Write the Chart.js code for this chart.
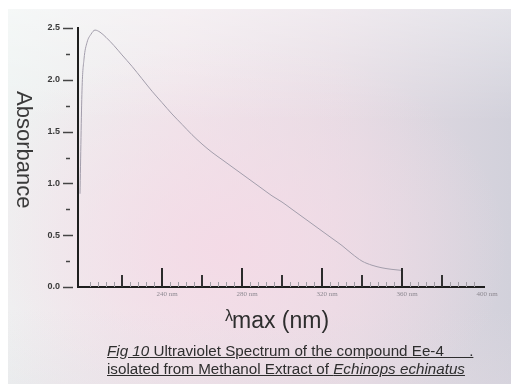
<!DOCTYPE html>
<html>
<head>
<meta charset="utf-8">
<script src="https://cdn.jsdelivr.net/npm/chart.js@4"></script>
<style>
  html, body { margin: 0; padding: 0; background: #ffffff; }
  #wrap { position: relative; width: 511px; height: 387px; overflow: hidden; background: #fff; }
  #photo { position: absolute; left: 8px; top: 9px; width: 503px; height: 375px;
    background:
      radial-gradient(ellipse 280px 210px at 220px 240px, rgba(244,218,230,0.95), rgba(244,218,230,0) 100%),
      linear-gradient(90deg, #eef3f2 0%, #efe6eb 35%, #e6dce4 65%, #d2d1db 100%);
  }
  #photo::after { content: ""; position: absolute; inset: 0;
    background: linear-gradient(180deg, rgba(255,255,255,0.4) 0%, rgba(255,255,255,0) 30%, rgba(255,255,255,0) 80%, rgba(225,218,226,0.3) 100%); }
  canvas { position: absolute; left: 0; top: 0; }
  .txt { position: absolute; font-family: "Liberation Sans", Arial, sans-serif; color: #333; white-space: nowrap; }
  #ylab { left: 11px; top: 91px; writing-mode: vertical-rl; font-size: 22px; color: #3a3a3a; }
  #xlab { left: 225px; top: 307px; font-size: 23px; color: #2e2e2e; }
  #xlab .lam { position: relative; top: -7px; font-size: 16px; margin-right: -1px; }
  #cap { left: 107px; top: 342px; font-size: 15.2px; line-height: 18px; color: #2e2e2e; }
  #cap div { text-decoration: underline; }
</style>
</head>
<body>
<div id="wrap">
  <div id="photo"></div>
  <canvas id="c" width="511" height="387"></canvas>
  <div class="txt" id="ylab">Absorbance</div>
  <div class="txt" id="xlab"><span class="lam">λ</span>max (nm)</div>
  <div class="txt" id="cap">
    <div><i>Fig 10</i> Ultraviolet Spectrum of the compound Ee-4&nbsp;&nbsp;&nbsp;&nbsp;&nbsp;&nbsp;.</div>
    <div>isolated from Methanol Extract of <i>Echinops echinatus</i></div>
  </div>
</div>
<script>
// Data
const wavelengths = [199, 200, 201, 202.5, 204.5, 206.5, 209, 212, 216, 220, 225, 230, 235, 240, 245, 250, 255, 260, 265, 270, 275, 280, 285, 290, 295, 300, 305, 310, 315, 320, 325, 330, 335, 340, 345, 350, 355, 360];
const absorbance  = [0.90, 1.90, 2.20, 2.36, 2.44, 2.48, 2.46, 2.41, 2.33, 2.24, 2.13, 2.01, 1.89, 1.78, 1.67, 1.57, 1.47, 1.38, 1.30, 1.23, 1.16, 1.09, 1.02, 0.95, 0.88, 0.82, 0.75, 0.68, 0.61, 0.54, 0.47, 0.40, 0.32, 0.25, 0.21, 0.185, 0.17, 0.16];
const xTickLabels = [240, 280, 320, 360, 400];
const yTickLabels = [0.0, 0.5, 1.0, 1.5, 2.0, 2.5];
const yMinorTicks = [0.25, 0.75, 1.25, 1.75, 2.25];
const xMajorTicks = [240, 280, 320, 360];
const xMediumTicks = [220, 260, 300, 340, 380];
const xMinorStep = 4;

const points = wavelengths.map((w, i) => ({ x: w, y: absorbance[i] }));

const tickPlugin = {
  id: 'handTicks',
  afterDraw(chart) {
    const ctx = chart.ctx;
    const xs = chart.scales.x, ys = chart.scales.y;
    const left = chart.chartArea.left, bottom = chart.chartArea.bottom;
    ctx.save();
    ctx.strokeStyle = '#444';
    yTickLabels.forEach(v => {
      const y = Math.round(ys.getPixelForValue(v)) + 0.5;
      ctx.lineWidth = 1.5;
      ctx.beginPath(); ctx.moveTo(left - 15, y); ctx.lineTo(left - 5, y); ctx.stroke();
    });
    yMinorTicks.forEach(v => {
      const y = Math.round(ys.getPixelForValue(v)) + 0.5;
      ctx.lineWidth = 1.5;
      ctx.beginPath(); ctx.moveTo(left - 12, y); ctx.lineTo(left - 8, y); ctx.stroke();
    });
    for (let v = 204; v < 400; v += xMinorStep) {
      if (xMajorTicks.includes(v) || xMediumTicks.includes(v)) continue;
      const x = Math.round(xs.getPixelForValue(v)) + 0.5;
      ctx.strokeStyle = '#a09ca4'; ctx.lineWidth = 1;
      ctx.beginPath(); ctx.moveTo(x, bottom); ctx.lineTo(x, bottom - 5); ctx.stroke();
    }
    xMediumTicks.forEach(v => {
      const x = Math.round(xs.getPixelForValue(v));
      ctx.strokeStyle = '#333'; ctx.lineWidth = 2;
      ctx.beginPath(); ctx.moveTo(x, bottom); ctx.lineTo(x, bottom - 12); ctx.stroke();
    });
    xMajorTicks.forEach(v => {
      const x = Math.round(xs.getPixelForValue(v));
      ctx.strokeStyle = '#2a2a2a'; ctx.lineWidth = 2;
      ctx.beginPath(); ctx.moveTo(x, bottom); ctx.lineTo(x, bottom - 19); ctx.stroke();
    });
    ctx.restore();
  }
};

new Chart(document.getElementById('c'), {
  type: 'line',
  data: {
    datasets: [{
      data: points,
      borderColor: '#a29dab',
      borderWidth: 1,
      pointRadius: 0,
      cubicInterpolationMode: 'monotone',
      fill: false
    }]
  },
  options: {
    responsive: false,
    animation: false,
    layout: { padding: { left: 0, right: 27, top: 28, bottom: 0 } },
    plugins: { legend: { display: false }, tooltip: { enabled: false }, title: { display: false } },
    scales: {
      x: {
        type: 'linear', min: 198, max: 401,
        afterFit: s => { s.height = 100; },
        afterBuildTicks: s => { s.ticks = xTickLabels.map(v => ({ value: v })); },
        grid: { display: false, drawTicks: false },
        border: { display: true, color: '#1e1e1e', width: 2 },
        ticks: {
          padding: 3, labelOffset: 5, maxRotation: 0, autoSkip: false,
          color: '#8e8a92',
          font: { family: 'Liberation Serif', size: 7 },
          callback: v => v + ' nm'
        }
      },
      y: {
        min: 0, max: 2.5,
        afterFit: s => { s.width = 78; },
        afterBuildTicks: s => { s.ticks = yTickLabels.map(v => ({ value: v })); },
        grid: { display: false, drawTicks: false },
        border: { display: true, color: '#1e1e1e', width: 2 },
        ticks: {
          padding: 18, autoSkip: false,
          color: '#3a3a3a',
          font: { family: 'Liberation Sans', size: 9, weight: 'bold' },
          callback: v => Number(v).toFixed(1)
        }
      }
    }
  },
  plugins: [tickPlugin]
});
</script>
</body>
</html>
